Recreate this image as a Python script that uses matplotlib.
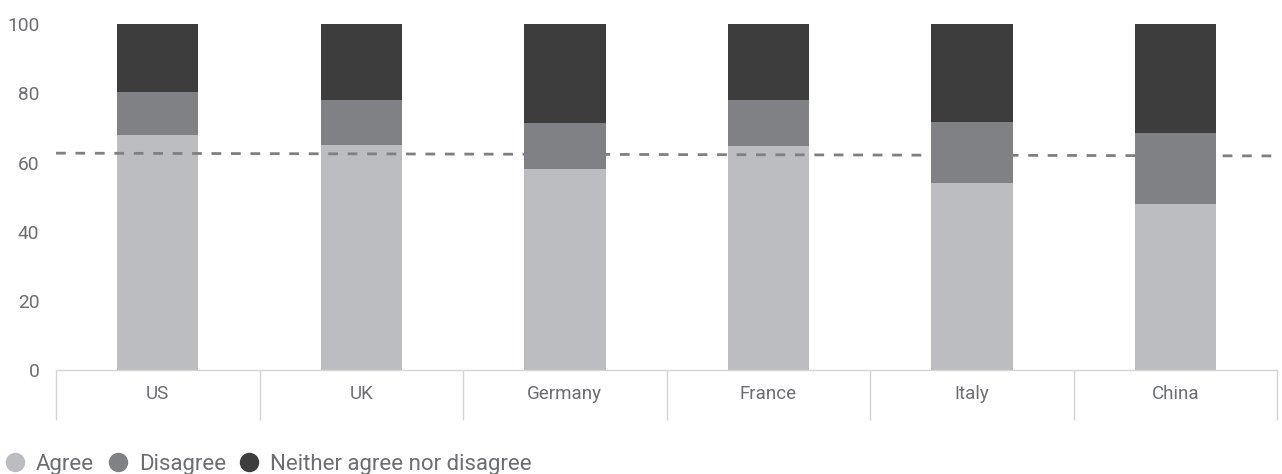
import matplotlib.pyplot as plt
import numpy as np
from matplotlib.lines import Line2D
from matplotlib.ticker import FixedLocator

countries = ["US", "UK", "Germany", "France", "Italy", "China"]
agree = [68, 65, 58, 64.7, 54, 48]
disagree = [12.3, 13, 13.5, 13.3, 17.8, 20.5]
neither = [19.7, 22, 28.5, 22, 28.2, 31.5]
avg_line = [62.7, 61.9]  # dashed reference line, left end / right end

c_agree = "#bcbdc1"
c_dis = "#808184"
c_nei = "#3d3d3d"
txt = "#6d6e71"

plt.rcParams['font.family'] = ['Roboto', 'DejaVu Sans']

fig = plt.figure(figsize=(12.82, 4.74), dpi=100)
ax = fig.add_axes([0.0437, 0.2194, 0.9525, 0.7296])

x = np.arange(len(countries))
ax.bar(x, agree, width=0.4, color=c_agree, zorder=1)
ax.plot([-0.5, len(countries) - 0.5], avg_line, ls=(0, (3.5, 3.5)), lw=2,
        color="#808080", zorder=2)
bottom2 = np.array(agree)
ax.bar(x, disagree, width=0.4, bottom=bottom2, color=c_dis, zorder=3)
bottom3 = bottom2 + np.array(disagree)
ax.bar(x, neither, width=0.4, bottom=bottom3, color=c_nei, zorder=3)

ax.set_xlim(-0.5, len(countries) - 0.5)
ax.set_ylim(0, 100)
ax.set_yticks([0, 20, 40, 60, 80, 100])
ax.tick_params(axis='y', length=0, labelsize=13.8, labelcolor=txt, pad=12)

ax.set_xticks(x)
ax.set_xticklabels(countries)
ax.tick_params(axis='x', which='major', length=0, labelsize=13.5,
               labelcolor=txt, pad=11)
ax.xaxis.set_minor_locator(FixedLocator(np.arange(-0.5, len(countries), 1.0)))
ax.tick_params(axis='x', which='minor', length=36, width=1, color="#d4d4d4",
               direction='out')

for s in ["top", "right", "left"]:
    ax.spines[s].set_visible(False)
ax.spines["bottom"].set_color("#d4d4d4")
ax.spines["bottom"].set_linewidth(1)

handles = [Line2D([], [], marker='o', ls='none', markersize=13, color=c)
           for c in (c_agree, c_dis, c_nei)]
fig.legend(handles, ["Agree", "Disagree", "Neither agree nor disagree"],
           loc='lower left', bbox_to_anchor=(0.003, -0.002), ncol=3,
           frameon=False, fontsize=16, labelcolor=txt, handletextpad=0.45,
           columnspacing=0.55, handlelength=1.0, borderpad=0, borderaxespad=0)

fig.savefig("out.png", dpi=100)
